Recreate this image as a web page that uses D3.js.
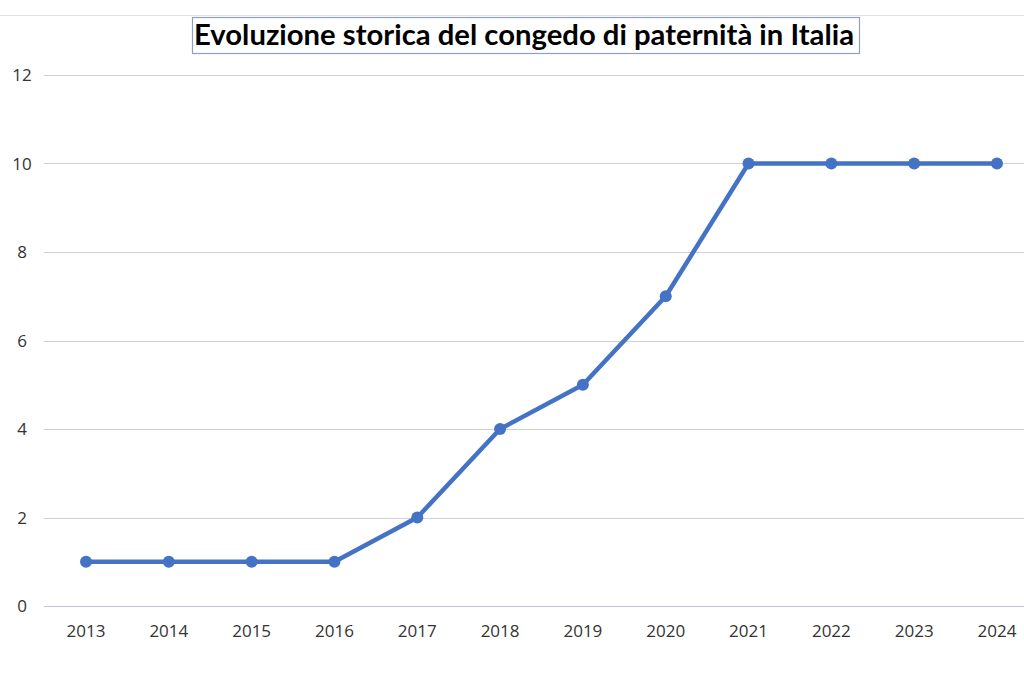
<!DOCTYPE html>
<html><head><meta charset="utf-8">
<script src="https://cdn.jsdelivr.net/npm/d3@7"></script>
<style>body{margin:0;background:#fff}svg{display:block}</style>
</head><body>
<script>
const years = ["2013","2014","2015","2016","2017","2018","2019","2020","2021","2022","2023","2024"];
const days = [1,1,1,1,2,4,5,7,10,10,10,10];
const yTicks = [0,2,4,6,8,10,12];
const title = "Evoluzione storica del congedo di paternità in Italia";

const W=1024,H=683;
const svg=d3.select("body").append("svg").attr("width",W).attr("height",H);
svg.append("rect").attr("width",W).attr("height",H).attr("fill","#fff");
svg.append("line").attr("x1",0).attr("x2",W).attr("y1",15.5).attr("y2",15.5).attr("stroke","#e2e2e2").attr("stroke-width",1);

const x=d3.scaleBand().domain(years).range([44.6,1038.4]);
const y=d3.scaleLinear().domain([0,12]).range([606,75]);

const g=svg.append("g");
g.selectAll("line.grid").data(yTicks).join("line").attr("class","grid")
 .attr("x1",44).attr("x2",W).attr("y1",d=>Math.round(y(d))+0.5).attr("y2",d=>Math.round(y(d))+0.5)
 .attr("stroke",d=>d===0?"#c3c3dc":"#cfcfdc").attr("stroke-width",1);

g.selectAll("text.yl").data(yTicks).join("text").attr("class","yl")
 .attr("x",22).attr("y",d=>y(d)+6).attr("text-anchor","middle")
 .attr("font-family","'Open Sans','DejaVu Sans',sans-serif").attr("font-size",17).attr("fill","#333").text(d=>d);

g.selectAll("text.xl").data(years).join("text").attr("class","xl")
 .attr("x",d=>x(d)+x.bandwidth()/2).attr("y",637).attr("text-anchor","middle")
 .attr("font-family","'Open Sans','DejaVu Sans',sans-serif").attr("font-size",17).attr("fill","#333").text(d=>d);

const pts=years.map((yr,i)=>({yr,v:days[i]}));
const line=d3.line().x(d=>x(d.yr)+x.bandwidth()/2).y(d=>y(d.v));
g.append("path").datum(pts).attr("d",line).attr("fill","none").attr("stroke","#4472C4").attr("stroke-width",4.5).attr("stroke-linejoin","round");
g.selectAll("circle").data(pts).join("circle").attr("cx",d=>x(d.yr)+x.bandwidth()/2).attr("cy",d=>y(d.v)).attr("r",6).attr("fill","#4472C4");

svg.append("rect").attr("x",192.5).attr("y",17.5).attr("width",667).attr("height",36).attr("fill","#fff").attr("stroke","#8ea0bd").attr("stroke-width",1.2);
const t=svg.append("text").attr("x",524).attr("y",45).attr("text-anchor","middle")
 .attr("font-family","Lato,'Open Sans',sans-serif").attr("font-weight","bold").attr("font-size",28).attr("fill","#000").text(title);
t.attr("textLength",660).attr("lengthAdjust","spacingAndGlyphs");
</script>
</body></html>
